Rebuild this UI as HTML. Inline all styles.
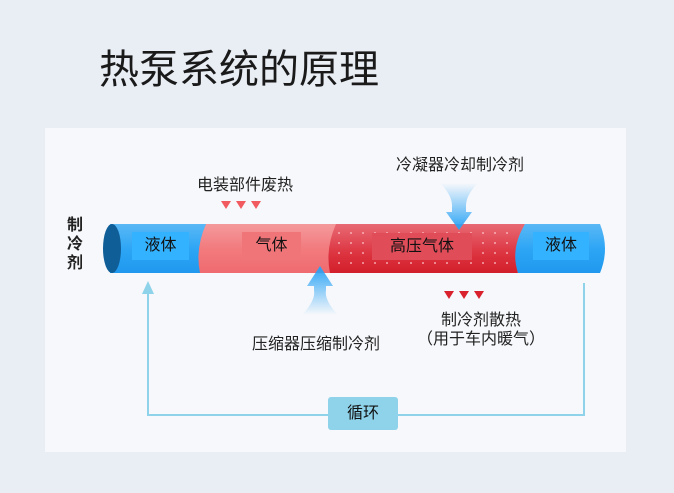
<!DOCTYPE html>
<html><head><meta charset="utf-8"><style>
body{margin:0;width:674px;height:493px;background:#e9eef5;position:relative;overflow:hidden;font-family:"Liberation Sans","Noto Sans CJK SC",sans-serif;}
.a{position:absolute;white-space:nowrap;}
</style></head><body>
<div class="a" style="left:99px;top:37px;font-size:40px;color:#1a1a1a;">热泵系统的原理</div>
<div class="a" style="left:45px;top:128px;width:581px;height:324px;background:#f7f8fb;"></div>
<svg class="a" style="left:0;top:0" width="674" height="493">
<defs>
<linearGradient id="bl" x1="0" y1="0" x2="0" y2="1"><stop offset="0" stop-color="#5ab8f5"/><stop offset="0.5" stop-color="#2ea6f5"/><stop offset="1" stop-color="#1f98ee"/></linearGradient>
<linearGradient id="pk" x1="0" y1="0" x2="0" y2="1"><stop offset="0" stop-color="#f49a9c"/><stop offset="0.5" stop-color="#f27b7e"/><stop offset="1" stop-color="#ef6b6f"/></linearGradient>
<linearGradient id="rd" x1="0" y1="0" x2="0" y2="1"><stop offset="0" stop-color="#e86a74"/><stop offset="0.6" stop-color="#dc3440"/><stop offset="1" stop-color="#d21f2b"/></linearGradient>
<linearGradient id="up" x1="0" y1="0" x2="0" y2="1"><stop offset="0" stop-color="#29a3f5"/><stop offset="1" stop-color="#29a3f5" stop-opacity="0"/></linearGradient>
<linearGradient id="dn" x1="0" y1="1" x2="0" y2="0"><stop offset="0" stop-color="#29a3f5"/><stop offset="1" stop-color="#29a3f5" stop-opacity="0"/></linearGradient>
<pattern id="dots" width="12" height="10" patternUnits="userSpaceOnUse"><circle cx="3" cy="3" r="0.9" fill="#ffc8cc"/></pattern>
</defs>
<path d="M110 224 H210 Q200 249 206 273 H110 Z" fill="url(#bl)"/>
<path d="M206 224 H340 Q330 249 336 273 H200 Q195 249 206 224Z" fill="url(#pk)"/>
<path d="M336 224 H525 Q512 249 518 273 H330 Q325 249 336 224Z" fill="url(#rd)"/>
<rect x="336" y="226" width="182" height="45" fill="url(#dots)"/>
<path d="M525 224 H600 Q610 249 600 273 H518 Q510 249 525 224Z" fill="url(#bl)"/>
<ellipse cx="112" cy="248.5" rx="9" ry="24.5" fill="#0f5e98"/>
<rect x="132" y="232" width="57" height="28" fill="#33b2ff"/>
<rect x="242" y="232" width="59" height="28" fill="#f07579"/>
<rect x="372" y="233" width="100" height="27" fill="#e04d59"/>
<rect x="533" y="232" width="56" height="28" fill="#33b2ff"/>
<path d="M302 315 Q316 300 314 290 L314 286 L307 286 L320 266 L333 286 L326 286 L326 290 Q324 300 338 315Z" fill="url(#up)"/>
<path d="M440 183 Q453 196 452 208 L452 212 L446 212 L459 230 L472 212 L466 212 L466 208 Q465 196 478 183Z" fill="url(#dn)"/>
<g fill="#f15a5f"><path d="M221 201h10l-5 8z"/><path d="M236 201h10l-5 8z"/><path d="M251 201h10l-5 8z"/></g>
<g fill="#d9222e"><path d="M444 291h10l-5 8z"/><path d="M459 291h10l-5 8z"/><path d="M474 291h10l-5 8z"/></g>
<path d="M148 292 V415 H328 M398 415 H584 V283" fill="none" stroke="#8fd3ea" stroke-width="2"/>
<path d="M142 294 L148 281 L154 294Z" fill="#8fd3ea"/>
<rect x="328" y="397" width="70" height="33" rx="3" fill="#8fd3ea"/>
</svg>
<div class="a" style="left:132px;top:232px;width:57px;line-height:28px;text-align:center;font-size:16px;color:#111;">液体</div>
<div class="a" style="left:242px;top:232px;width:59px;line-height:28px;text-align:center;font-size:16px;color:#111;">气体</div>
<div class="a" style="left:372px;top:233px;width:100px;line-height:27px;text-align:center;font-size:16px;color:#111;">高压气体</div>
<div class="a" style="left:533px;top:232px;width:56px;line-height:28px;text-align:center;font-size:16px;color:#111;">液体</div>
<div class="a" style="left:328px;top:397px;width:70px;line-height:33px;text-align:center;font-size:16px;color:#111;">循环</div>
<div class="a" style="left:67px;top:216px;width:17px;font-size:16px;line-height:19px;font-weight:bold;color:#222;white-space:normal;">制冷剂</div>
<div class="a" style="left:185px;top:171px;width:120px;text-align:center;font-size:16px;color:#222;">电装部件废热</div>
<div class="a" style="left:385px;top:151px;width:150px;text-align:center;font-size:16px;color:#222;">冷凝器冷却制冷剂</div>
<div class="a" style="left:236px;top:330px;width:160px;text-align:center;font-size:16px;color:#222;">压缩器压缩制冷剂</div>
<div class="a" style="left:401px;top:306px;width:160px;text-align:center;font-size:16px;color:#222;">制冷剂散热</div>
<div class="a" style="left:401px;top:325px;width:160px;text-align:center;font-size:16px;color:#222;">（用于车内暖气）</div>
</body></html>
